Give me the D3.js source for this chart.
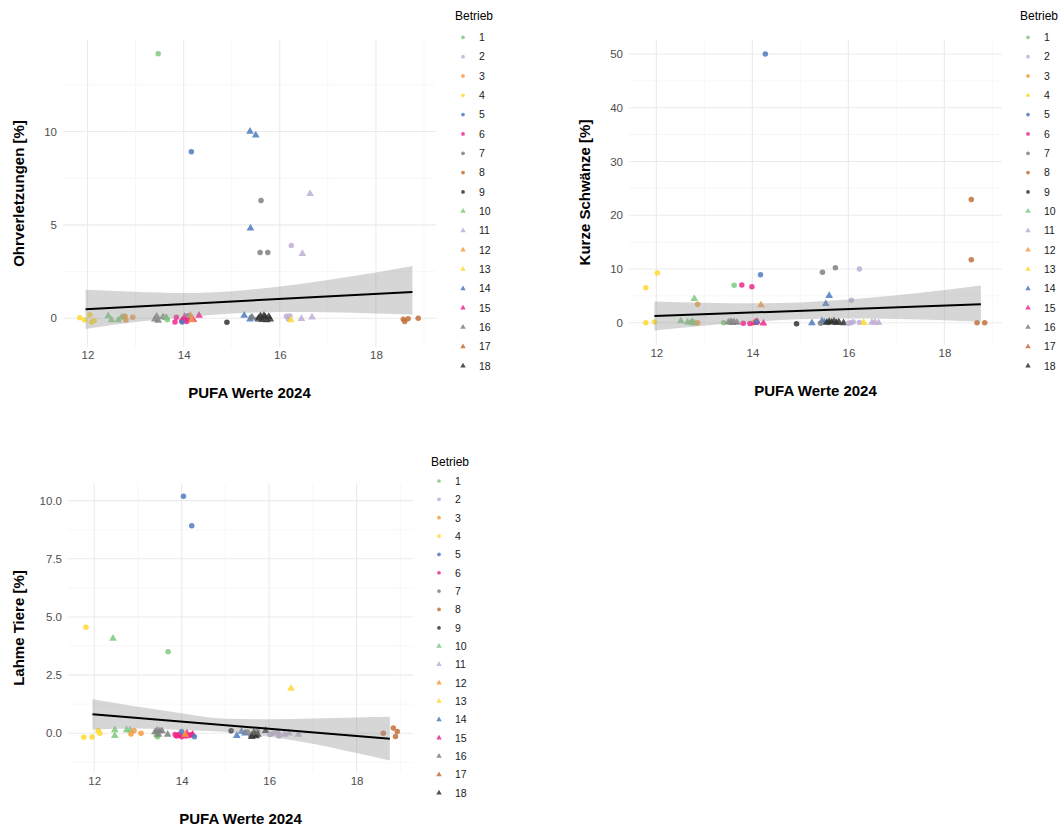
<!DOCTYPE html>
<html>
<head>
<meta charset="utf-8">
<script src="https://cdn.jsdelivr.net/npm/d3@7"></script>
<style>
  html, body { margin: 0; padding: 0; background: #fff; }
  svg { display: block; font-family: "Liberation Sans", Arial, sans-serif; }
</style>
</head>
<body>
<svg id="chart" width="1062" height="830"></svg>
<script>
// ---------- DATA ----------
const betriebe = ["1","2","3","4","5","6","7","8","9","10","11","12","13","14","15","16","17","18"];
const betriebColors = ["#7FC97F","#BEAED4","#F39C3F","#FFD92F","#4E7BC0","#F0288A","#808080","#C2703A","#333333"];
const xTicks = [12, 14, 16, 18];
const xMinor = [13, 15, 17, 19];
const xTitle = "PUFA Werte 2024";

// [Betrieb, PUFA (jittered), value]
const ohrPoints = [
  [4,11.84,0.03],[4,11.94,-0.09],[4,12.05,0.18],[4,12.08,-0.2],[4,12.14,-0.13],
  [10,12.43,0.12],[10,12.50,-0.1],[10,12.64,-0.1],[10,12.71,0.05],[10,12.76,0.06],
  [3,12.78,0.1],[3,12.80,-0.1],[3,12.94,0.05],[3,14.13,0.12],
  [16,13.40,-0.05],[16,13.44,0.1],[16,13.47,-0.12],[16,13.57,0.06],[16,13.64,0.02],
  [1,13.47,14.16],[1,13.66,-0.08],[1,13.62,0.05],
  [6,13.82,-0.2],[6,13.85,0.05],[6,13.96,-0.15],[6,13.99,-0.05],[6,14.06,-0.18],[6,14.09,-0.1],
  [15,14.02,0.08],[15,14.20,-0.08],[15,14.32,0.15],
  [5,13.97,-0.2],[5,14.16,8.91],[5,14.10,0.13],
  [12,14.14,0.15],[12,14.17,-0.1],
  [9,14.90,-0.21],
  [14,15.26,0.15],[14,15.38,-0.05],[14,15.38,10.0],[14,15.50,9.8],[14,15.39,4.82],[14,15.42,0.05],
  [7,15.41,0.05],[7,15.52,-0.05],[7,15.61,6.3],[7,15.59,3.52],[7,15.75,3.52],[7,15.65,0.02],
  [18,15.56,0.0],[18,15.60,0.12],[18,15.63,-0.08],[18,15.67,0.15],[18,15.70,0.05],[18,15.73,-0.1],[18,15.77,0.08],[18,15.80,-0.05],
  [2,16.14,0.1],[2,16.18,-0.05],[2,16.21,0.12],[2,16.24,3.89],
  [13,16.23,-0.1],
  [11,16.45,-0.03],[11,16.67,0.05],[11,16.63,6.66],[11,16.47,3.45],
  [8,18.57,-0.05],[8,18.60,-0.18],[8,18.67,-0.03],[8,18.88,0.0]
];
const schwanzPoints = [
  [4,11.78,6.5],[4,12.02,9.24],[4,11.78,0.0],[4,11.96,0.15],
  [10,12.51,0.3],[10,12.65,0.1],[10,12.72,0.05],[10,12.79,4.47],[10,12.79,-0.1],[10,12.75,0.2],
  [3,12.86,3.41],[3,12.86,0.0],[3,14.02,-0.05],[3,14.06,0.1],
  [1,13.40,0.0],[1,13.62,6.95],
  [16,13.50,0.1],[16,13.55,0.2],[16,13.58,0.0],[16,13.62,0.15],[16,13.68,0.05],
  [6,13.78,7.0],[6,13.99,6.7],[6,13.81,-0.1],[6,13.95,-0.15],[6,14.08,0.3],
  [15,14.06,0.0],[15,14.23,-0.1],[15,14.10,0.2],
  [5,14.27,50.0],[5,14.17,8.93],[5,14.09,0.1],
  [12,14.18,3.29],
  [9,14.92,-0.19],
  [14,15.24,-0.05],[14,15.45,0.3],[14,15.60,5.0],[14,15.53,3.54],[14,15.50,0.1],
  [7,15.46,9.37],[7,15.73,10.24],[7,15.42,-0.1],[7,15.58,0.05],
  [18,15.55,0.05],[18,15.60,0.25],[18,15.65,0.1],[18,15.70,0.3],[18,15.75,0.0],[18,15.80,0.15],[18,15.90,-0.05],
  [2,16.23,9.99],[2,16.06,4.16],[2,16.00,-0.1],[2,16.05,0.0],[2,16.10,0.15],[2,16.23,0.05],
  [13,16.32,0.0],
  [11,16.49,0.05],[11,16.55,0.1],[11,16.63,0.0],
  [8,18.56,22.9],[8,18.56,11.7],[8,18.68,0.0],[8,18.84,0.0]
];
const lahmPoints = [
  [4,11.81,4.56],[4,11.76,-0.17],[4,11.95,-0.16],[4,12.09,0.11],[4,12.13,0.0],
  [10,12.43,4.07],[10,12.47,0.14],[10,12.47,-0.11],[10,12.74,0.14],[10,12.82,0.13],
  [3,12.84,-0.03],[3,12.91,0.11],[3,13.07,0.0],[3,14.04,-0.08],
  [1,13.69,3.5],[1,13.42,-0.1],[1,13.45,-0.15],
  [16,13.39,0.05],[16,13.44,0.12],[16,13.50,0.1],[16,13.55,0.1],[16,13.68,-0.05],[16,13.47,-0.05],
  [6,13.85,-0.05],[6,13.88,-0.12],[6,13.95,-0.08],[6,14.00,-0.15],[6,14.10,-0.12],[6,14.18,-0.1],[6,14.23,-0.05],
  [15,14.12,0.0],[15,14.25,-0.05],[15,13.92,-0.1],
  [5,14.04,10.19],[5,14.23,8.92],[5,14.00,0.07],[5,14.29,-0.15],
  [12,14.08,-0.05],
  [9,15.13,0.11],
  [14,15.26,-0.11],[14,15.37,0.07],[14,15.45,0.0],
  [7,15.50,0.05],[7,15.58,-0.1],[7,15.62,-0.02],[7,15.68,-0.08],[7,15.73,0.08],
  [18,15.60,-0.15],[18,15.65,0.02],[18,15.70,-0.12],[18,15.74,-0.05],[18,15.92,0.11],
  [2,16.02,-0.05],[2,16.10,0.0],[2,16.22,-0.12],
  [11,16.20,0.05],[11,16.35,-0.05],[11,16.67,-0.05],[11,16.45,0.0],
  [13,16.50,1.92],
  [8,18.61,0.0],[8,18.84,0.22],[8,18.93,0.07],[8,18.89,-0.14]
];

// linear fit: x positions, fitted line, confidence band
const fitX = [11.96, 13, 14, 15, 16, 17, 18, 18.76];
const ohrFit = [0.48, 0.62, 0.76, 0.90, 1.03, 1.17, 1.31, 1.41];
const ohrLo  = [-0.57, -0.20, 0.05, 0.25, 0.33, 0.32, 0.25, 0.20];
const ohrHi  = [1.53, 1.42, 1.35, 1.45, 1.70, 2.05, 2.45, 2.80];
const schwanzFit = [1.24, 1.57, 1.89, 2.21, 2.53, 2.85, 3.17, 3.41];
const schwanzLo  = [-1.46, -0.55, 0.18, 0.62, 0.78, 0.70, 0.45, 0.20];
const schwanzHi  = [3.94, 3.70, 3.60, 3.78, 4.30, 5.10, 6.10, 6.90];
const lahmFit = [0.82, 0.66, 0.50, 0.35, 0.19, 0.03, -0.12, -0.24];
const lahmLo  = [0.16, 0.20, 0.14, 0.05, -0.15, -0.45, -0.85, -1.17];
const lahmHi  = [1.46, 1.14, 0.86, 0.62, 0.60, 0.63, 0.68, 0.71];

const ohrYTicks = [0, 5, 10];
const ohrYMinor = [2.5, 7.5, 12.5];
const schwanzYTicks = [0, 10, 20, 30, 40, 50];
const schwanzYMinor = [5, 15, 25, 35, 45];
const lahmYTicks = [0, 2.5, 5, 7.5, 10];
const lahmYMinor = [-1.25, 1.25, 3.75, 6.25, 8.75];

// ---------- LAYOUT ----------
const panels = [
  { yTitle: "Ohrverletzungen [%]", points: ohrPoints, fit: ohrFit, lo: ohrLo, hi: ohrHi,
    yTicks: ohrYTicks, yMinor: ohrYMinor, fmt: d3.format("d"),
    left: 63, right: 436, top: 40, bottom: 347,
    xDomain: [11.49, 19.25], yDomain: [-1.54, 14.9],
    yTitleX: 24, legX: 455, legTitleY: 20, legY0: 37.3, legDy: 19.33 },
  { yTitle: "Kurze Schwänze [%]", points: schwanzPoints, fit: schwanzFit, lo: schwanzLo, hi: schwanzHi,
    yTicks: schwanzYTicks, yMinor: schwanzYMinor, fmt: d3.format("d"),
    left: 629, right: 1002, top: 40, bottom: 345,
    xDomain: [11.43, 19.2], yDomain: [-4.15, 52.6],
    yTitleX: 590, legX: 1020, legTitleY: 20, legY0: 37.3, legDy: 19.33 },
  { yTitle: "Lahme Tiere [%]", points: lahmPoints, fit: lahmFit, lo: lahmLo, hi: lahmHi,
    yTicks: lahmYTicks, yMinor: lahmYMinor, fmt: d3.format(".1f"),
    left: 68, right: 413, top: 483, bottom: 773,
    xDomain: [11.40, 19.29], yDomain: [-1.71, 10.76],
    yTitleX: 24, legX: 431, legTitleY: 466, legY0: 481, legDy: 18.35 }
];

const svg = d3.select("#chart");
const color = b => betriebColors[(b - 1) % 9];
const isTri = b => b >= 10;
const symCircle = d3.symbol().type(d3.symbolCircle).size(24);
const symTri = d3.symbol().type(d3.symbolTriangle).size(26);
const legCircle = d3.symbol().type(d3.symbolCircle).size(11);
const legTri = d3.symbol().type(d3.symbolTriangle).size(13);

panels.forEach(p => {
  const x = d3.scaleLinear().domain(p.xDomain).range([p.left, p.right]);
  const y = d3.scaleLinear().domain(p.yDomain).range([p.bottom, p.top]);
  const g = svg.append("g");

  // minor grid
  g.selectAll(".hmin").data(p.yMinor).join("line")
    .attr("x1", p.left).attr("x2", p.right)
    .attr("y1", d => y(d)).attr("y2", d => y(d))
    .attr("stroke", "#f2f2f2").attr("stroke-width", 0.6);
  g.selectAll(".vmin").data(xMinor).join("line")
    .attr("y1", p.top).attr("y2", p.bottom)
    .attr("x1", d => x(d)).attr("x2", d => x(d))
    .attr("stroke", "#f2f2f2").attr("stroke-width", 0.6);
  // major grid
  g.selectAll(".hmaj").data(p.yTicks).join("line")
    .attr("x1", p.left).attr("x2", p.right)
    .attr("y1", d => y(d)).attr("y2", d => y(d))
    .attr("stroke", "#ebebeb").attr("stroke-width", 1.1);
  g.selectAll(".vmaj").data(xTicks).join("line")
    .attr("y1", p.top).attr("y2", p.bottom)
    .attr("x1", d => x(d)).attr("x2", d => x(d))
    .attr("stroke", "#ebebeb").attr("stroke-width", 1.1);

  // axes via d3
  const yAxis = d3.axisLeft(y).tickValues(p.yTicks).tickFormat(p.fmt).tickSize(0).tickPadding(6);
  const ya = g.append("g").attr("transform", `translate(${p.left},0)`).call(yAxis);
  ya.select(".domain").remove();
  ya.selectAll("text").attr("fill", "#4d4d4d").style("font-size", "11.5px");
  const xAxis = d3.axisBottom(x).tickValues(xTicks).tickFormat(d3.format("d")).tickSize(0).tickPadding(4);
  const xa = g.append("g").attr("transform", `translate(0,${p.bottom})`).call(xAxis);
  xa.select(".domain").remove();
  xa.selectAll("text").attr("fill", "#4d4d4d").style("font-size", "11.5px");

  // points
  g.selectAll(".pt").data(p.points).join("path")
    .attr("d", d => isTri(d[0]) ? symTri() : symCircle())
    .attr("transform", d => `translate(${x(d[1])},${y(d[2])})`)
    .attr("fill", d => color(d[0]))
    .attr("fill-opacity", 0.85);

  // confidence band + line
  const band = fitX.map((xv, i) => ({ x: xv, lo: p.lo[i], hi: p.hi[i], f: p.fit[i] }));
  g.append("path").datum(band)
    .attr("d", d3.area().x(d => x(d.x)).y0(d => y(d.lo)).y1(d => y(d.hi)).curve(d3.curveMonotoneX))
    .attr("fill", "#999999").attr("fill-opacity", 0.4);
  g.append("path").datum([band[0], band[band.length - 1]])
    .attr("d", d3.line().x(d => x(d.x)).y(d => y(d.f)))
    .attr("fill", "none").attr("stroke", "#000").attr("stroke-width", 2);

  // titles
  g.append("text").attr("x", (p.left + p.right) / 2).attr("y", p.bottom + 51)
    .attr("text-anchor", "middle").style("font-size", "15px").style("font-weight", "bold")
    .attr("fill", "#000").text(xTitle);
  g.append("text").attr("transform", `translate(${p.yTitleX},${(p.top + p.bottom) / 2}) rotate(-90)`)
    .attr("text-anchor", "middle").style("font-size", "15px").style("font-weight", "bold")
    .attr("fill", "#000").text(p.yTitle);

  // legend
  const lg = g.append("g");
  lg.append("text").attr("x", p.legX).attr("y", p.legTitleY)
    .style("font-size", "12px").attr("fill", "#000").text("Betrieb");
  const items = lg.selectAll(".li").data(betriebe).join("g")
    .attr("transform", (d, i) => `translate(${p.legX + 8},${p.legY0 + i * p.legDy})`);
  items.append("path")
    .attr("d", d => isTri(+d) ? legTri() : legCircle())
    .attr("fill", d => color(+d)).attr("fill-opacity", 0.85);
  items.append("text").attr("x", 16).attr("y", 3.8)
    .style("font-size", "10.5px").attr("fill", "#1a1a1a").text(d => d);
});
</script>
</body>
</html>
